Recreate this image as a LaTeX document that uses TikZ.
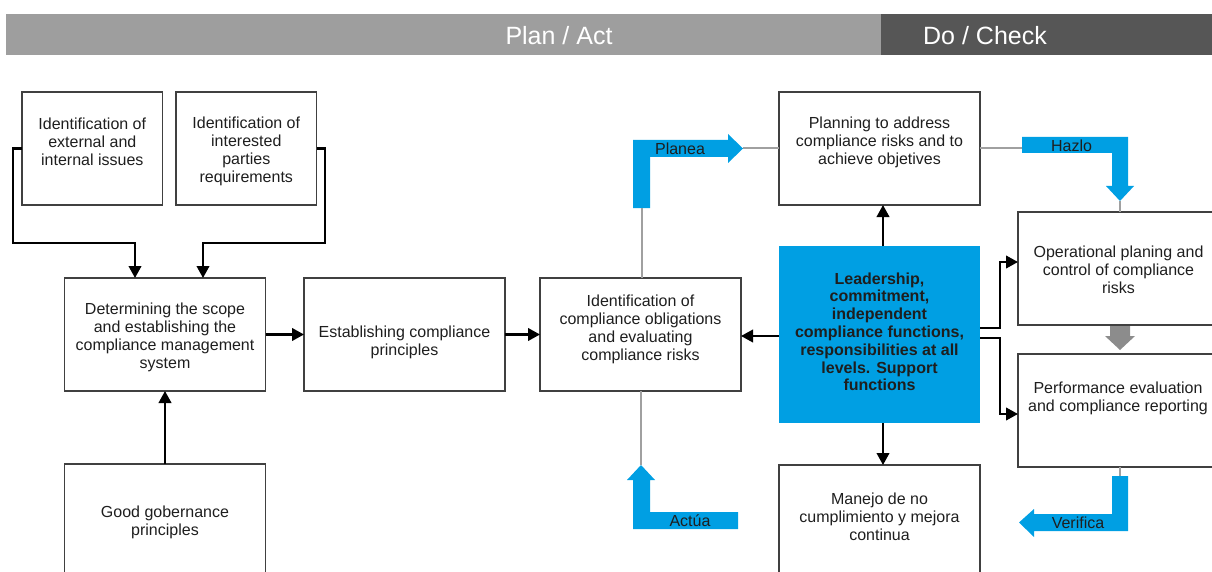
\documentclass[tikz,border=0pt]{standalone}
\usepackage{fontspec}
\setmainfont{Liberation Sans}
\usetikzlibrary{arrows.meta}
\definecolor{cblue}{RGB}{0,159,227}
\definecolor{boxline}{RGB}{64,64,64}
\definecolor{glight}{RGB}{158,158,158}
\definecolor{gdark}{RGB}{86,86,86}
\definecolor{gline}{RGB}{160,160,160}
\definecolor{garrow}{RGB}{140,140,140}
\definecolor{tdark}{RGB}{30,30,30}
\begin{document}
\begin{tikzpicture}[x=1pt,y=-1pt,
  box/.style={draw=boxline,line width=1.6pt,minimum width=201pt,minimum height=113pt,inner sep=0pt,outer sep=0pt},
  smallbox/.style={box,minimum width=140.5pt},
  txt/.style={font=\fontsize{16}{18}\selectfont,align=center,inner sep=0pt,text=tdark},
  btxt/.style={font=\fontsize{16}{17.8}\selectfont\bfseries,align=center,inner sep=0pt,text=tdark},
  lbl/.style={font=\fontsize{16}{18}\selectfont,inner sep=0pt,text=tdark},
  head/.style={font=\fontsize{25}{28}\selectfont,text=white,inner sep=0pt,anchor=base},
  arr/.style={line width=2.3pt,-{Triangle[length=12pt,width=12.5pt]}},
  gl/.style={draw=gline,line width=2pt},
  barrow/.style={fill=cblue,draw=none}]
\useasboundingbox (0,0) rectangle (1212,572);
\clip (0,0) rectangle (1212,572);
% header
\fill[glight] (6,14) rectangle (881,55);
\fill[gdark] (881,14) rectangle (1212,55);
\node[head] (hplan) at (559,45) {Plan / Act};
\node[head] (hdo) at (985,45) {Do / Check};
% boxes
\node[smallbox] (A) at (92.3,148.5) {};
\node[smallbox] (B) at (246.3,148.5) {};
\node[box] (C) at (165,334.5) {};
\node[box] (D) at (404.5,334.5) {};
\node[box] (E) at (640.5,334.5) {};
\node[box,minimum height=136pt] (F) at (165,532) {};
\node[box] (G) at (879.5,148.5) {};
\node[box,draw=none,fill=cblue,minimum height=177pt] (H) at (879.5,334.5) {};
\node[box,minimum width=207pt] (I) at (1121.5,268.5) {};
\node[box,minimum width=207pt] (J) at (1121.5,410.5) {};
\node[box,minimum height=135pt] (K) at (879.5,532.5) {};
% texts
\node[txt] (At) at (92.3,143.5) {\strut Identification of\\external and\\internal issues\strut};
\node[txt] (Bt) at (246.3,151.5) {\strut Identification of\\interested\\parties\\requirements\strut};
\node[txt] (Ct) at (165,337.5) {\strut Determining the scope\\and establishing the\\compliance management\\system\strut};
\node[txt] (Dt) at (404.5,342.5) {\strut Establishing compliance\\principles\strut};
\node[txt] (Et) at (640.5,329.5) {\strut Identification of\\compliance obligations\\and evaluating\\compliance risks\strut};
\node[txt] (Ft) at (165,522.5) {\strut Good gobernance\\principles\strut};
\node[txt] (Gt) at (879.5,142.5) {\strut Planning to address\\compliance risks and to\\achieve objetives\strut};
\node[btxt] (Ht) at (879.5,334) {\strut Leadership,\\commitment,\\independent\\compliance functions,\\responsibilities at all\\levels. Support\\functions\strut};
\node[txt] (It) at (1118.5,271.5) {\strut Operational planing and\\control of compliance\\risks\strut};
\node[txt] (Jt) at (1118,398.5) {\strut Performance evaluation\\and compliance reporting\strut};
\node[txt] (Kt) at (879.5,518.5) {\strut Manejo de no\\cumplimiento y mejora\\continua\strut};
% black connectors
\coordinate (a1) at (13,243);
\coordinate (b1) at (325,243);
\draw[arr] (A.west) -| (a1) -| ([xshift=-30pt]C.north);
\draw[arr] (B.east) -| (b1) -| ([xshift=38pt]C.north);
\draw[arr] (F.north) -- (C.south);
\draw[arr] (C.east) -- (D.west);
\draw[arr] (D.east) -- (E.west);
\draw[arr] ([yshift=-1.5pt]H.west) -- ([yshift=-1.5pt]E.east);
\draw[arr] ([xshift=3.5pt]H.north) -- ([xshift=3.5pt]G.south);
\draw[arr] ([xshift=3.5pt]H.south) -- ([xshift=3.5pt]K.north);
\coordinate (hi) at (1000,262);
\coordinate (hj) at (1000,414);
\draw[arr] ([yshift=6.5pt]H.east) -| (hi) -- (hi -| I.west);
\draw[arr] ([yshift=-3.5pt]H.east) -| (hj) -- (hj -| J.west);
% blue block arrows
\coordinate (pbase) at (641.5,208);
\coordinate (ptip) at (743,148.5);
\fill[barrow] (633,208) -- (633,140) -- (728,140) -- (728,134) -- (ptip) -- (728,163) -- (728,157) -- (650,157) -- (650,208) -- cycle;
\node[lbl] (planea) at (680,149) {Planea};
\coordinate (hbase) at (1022,148);
\coordinate (htip) at (1120,201);
\fill[barrow] (1022,137) -- (1128,137) -- (1128,186) -- (1134,186) -- (htip) -- (1106,186) -- (1112,186) -- (1112,153) -- (1022,153) -- cycle;
\node[lbl] (hazlo) at (1071.5,146) {Hazlo};
\coordinate (vbase) at (1120,476);
\fill[barrow] (1112,476) -- (1128,476) -- (1128,531) -- (1034,531) -- (1034,537) -- (1019,522.5) -- (1034,509) -- (1034,514) -- (1112,514) -- cycle;
\node[lbl] (verifica) at (1078,523) {Verifica};
\coordinate (atip) at (641,465);
\fill[barrow] (atip) -- (655,480) -- (650,480) -- (650,512) -- (738,512) -- (738,529) -- (633,529) -- (633,480) -- (627,480) -- cycle;
\node[lbl] (actua) at (690,520.5) {Actúa};
% gray connectors
\draw[gl] (E.north -| pbase) -- (pbase);
\draw[gl] (ptip) -- (ptip -| G.west);
\draw[gl] (hbase -| G.east) -- (hbase);
\draw[gl] (htip) -- (htip |- I.north);
\draw[gl] (vbase |- J.south) -- (vbase);
\draw[gl] (E.south -| atip) -- (atip);
% gray block arrow I -> J
\coordinate (gtip) at (1120,350);
\fill[garrow] (1110,326) -- (1130,326) -- (1130,336) -- (1135,336) -- (gtip) -- (1105,336) -- (1110,336) -- cycle;
\end{tikzpicture}
\end{document}
